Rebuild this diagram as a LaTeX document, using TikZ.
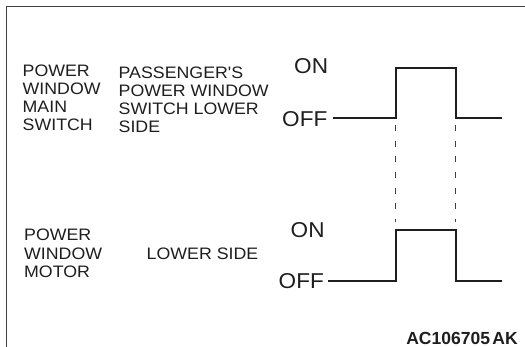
\documentclass[tikz,border=0pt]{standalone}
\usepackage{fontspec}
\setmainfont{Liberation Sans}
\newfontfamily\labfont[FakeStretch=1.07]{Liberation Sans}
\newfontfamily\onofffont[FakeStretch=1.05]{Liberation Sans}
\definecolor{inkc}{HTML}{1E1E1E}
\definecolor{framec}{HTML}{404040}
\begin{document}
\begin{tikzpicture}[x=1pt,y=-1pt,
  lab/.style={inner sep=0pt, anchor=base west, align=left, text=inkc,
    font=\labfont\fontsize{16.6}{18}\selectfont},
  onoff/.style={inner sep=0pt, anchor=base west, text=inkc,
    font=\onofffont\fontsize{21.5}{24}\selectfont},
  code/.style={inner sep=0pt, anchor=base east, text=inkc,
    font=\bfseries\fontsize{17.5}{20}\selectfont},
  signal/.style={draw=inkc, line width=2pt, line join=miter},
  guide/.style={draw=inkc!85, line width=1.2pt, dash pattern=on 6pt off 9.7pt},
  frame/.style={draw=framec, line width=1.5pt}]
\useasboundingbox (0,0) rectangle (525,347);
% frame
\coordinate (fTL) at (6.7,6.7);
\coordinate (fTR) at (525,6.7);
\coordinate (fBL) at (6.7,347);
\draw[frame] (fBL) -- (fTL) -- (fTR);
% labels (base anchor = baseline of the last line)
\node[lab] (mainsw) at (22.5,130.7) {POWER\\WINDOW\\MAIN\\SWITCH};
\node[lab] (passw) at (118.5,133) {PASSENGER'S\\POWER WINDOW\\SWITCH LOWER\\SIDE};
\node[lab, font=\labfont\fontsize{16.6}{18.5}\selectfont] (motor) at (24,277.7) {POWER\\WINDOW\\MOTOR};
\node[lab] (lower) at (146.5,259.3) {LOWER SIDE};
% on/off
\node[onoff] (on1) at (294,74) {ON};
\node[onoff] (off1) at (282,126.2) {OFF};
\node[onoff] (on2) at (290.5,238) {ON};
\node[onoff] (off2) at (278.5,288.5) {OFF};
\node[code] (codeid) at (518,344.8) {AC106705\hspace{2.5pt}AK};
% top signal
\coordinate (a0) at (332.7,117.7);
\coordinate (a1) at (395.7,117.7);
\coordinate (a2) at (395.7,67.7);
\coordinate (a3) at (455.5,67.7);
\coordinate (a4) at (455.5,117.7);
\coordinate (a5) at (502.3,117.7);
\draw[signal] (a0) -- (a1) -- (a2) -- (a3) -- (a4) -- (a5);
% bottom signal
\coordinate (b0) at (328,281);
\coordinate (b1) at (395.7,281);
\coordinate (b2) at (395.7,230.3);
\coordinate (b3) at (455.5,230.3);
\coordinate (b4) at (455.5,281);
\coordinate (b5) at (502.3,281);
\draw[signal] (b0) -- (b1) -- (b2) -- (b3) -- (b4) -- (b5);
% dashed guides
\coordinate (d1t) at (395.7,125);
\coordinate (d1b) at (395.7,222);
\coordinate (d2t) at (455.5,125);
\coordinate (d2b) at (455.5,222);
\draw[guide] (d1t) -- (d1b);
\draw[guide] (d2t) -- (d2b);
\end{tikzpicture}
\end{document}
